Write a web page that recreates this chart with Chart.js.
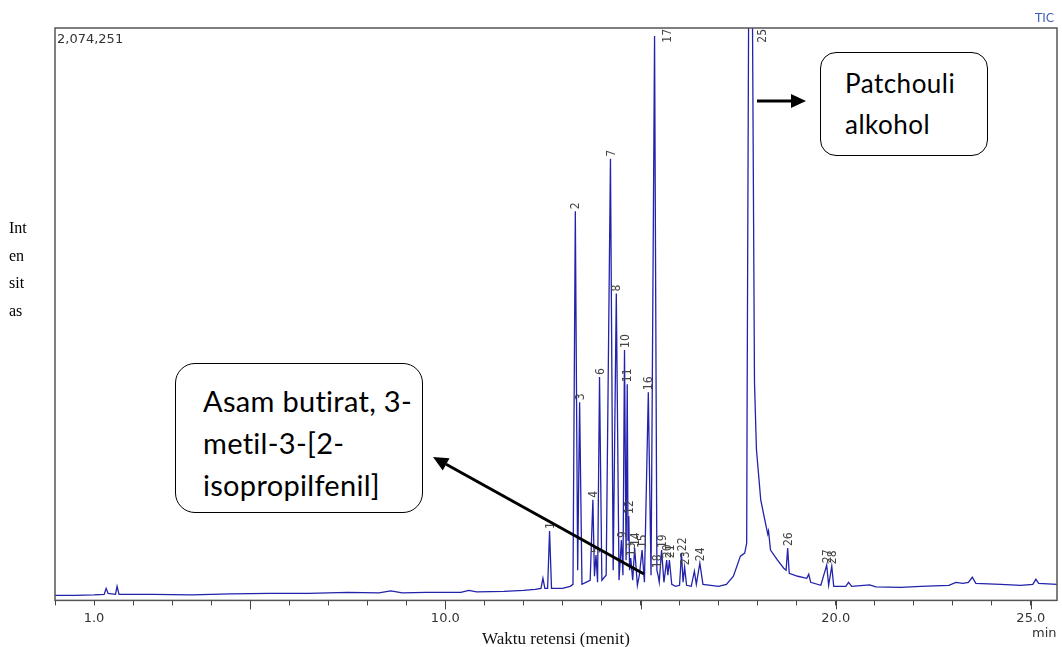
<!DOCTYPE html>
<html>
<head>
<meta charset="utf-8">
<script src="https://cdn.jsdelivr.net/npm/chart.js@4.4.1/dist/chart.umd.min.js"></script>
<style>
  body { margin: 0; background: #fff; }
  #wrap { position: relative; width: 1062px; height: 647px; overflow: hidden; }
  #chart { position: absolute; left: 0; top: 0; }
  .txt { position: absolute; white-space: nowrap; }
  .box { position: absolute; border: 1.6px solid #000; background: #fff; box-sizing: border-box;
         font-family: Lato, "Liberation Sans", sans-serif; color: #000; white-space: nowrap; }
</style>
</head>
<body>
<div id="wrap">
  <canvas id="chart" width="1062" height="647"></canvas>
  <div class="txt" style="left:57px;top:31px;font:13px 'DejaVu Sans',sans-serif;color:#333;">2,074,251</div>
  <div class="txt" style="left:1035px;top:11px;font:12px 'DejaVu Sans',sans-serif;color:#3a5cb8;">TIC</div>
  <div class="txt" style="left:1032px;top:625px;font:13px 'DejaVu Sans',sans-serif;color:#333;">min</div>
  <div class="txt" style="left:9px;top:214px;font:16px 'Liberation Serif',serif;color:#000;line-height:27.5px;">Int<br>en<br>sit<br>as</div>
  <div class="box" style="left:820px;top:52px;width:168px;height:104px;border-radius:16px;padding:10px 0 0 24px;line-height:41px;font-size:26px;letter-spacing:0.5px;">Patchouli<br>alkohol</div>
  <div class="box" style="left:175px;top:363px;width:248px;height:150px;border-radius:20px;padding:16px 0 0 27px;line-height:42px;font-size:29px;letter-spacing:0.3px;">Asam butirat, 3-<br>metil-3-[2-<br>isopropilfenil]</div>
</div>
<script>
// chromatogram trace (retention time in min, intensity in counts)
const timeMin = [
  0.00, 0.50, 1.00, 1.26, 1.31, 1.36, 1.55, 1.59, 1.64, 2.50, 3.50, 4.50, 5.50, 6.50, 7.50,
  8.30, 8.60, 8.90, 9.50, 10.40, 10.60, 10.80, 11.50, 12.00, 12.30, 12.45, 12.50, 12.55, 12.62,
  12.67, 12.72, 13.00, 13.20, 13.27, 13.33, 13.39, 13.44, 13.50, 13.60, 13.71, 13.78, 13.82,
  13.86, 13.90, 13.95, 14.01, 14.12, 14.23, 14.30, 14.38, 14.45, 14.51, 14.55, 14.59, 14.63,
  14.66, 14.68, 14.70, 14.72, 14.75, 14.80, 14.85, 14.92, 14.97, 15.04, 15.10, 15.20, 15.27,
  15.36, 15.42, 15.45, 15.48, 15.54, 15.60, 15.67, 15.70, 15.74, 15.80, 15.90, 16.00, 16.05,
  16.09, 16.13, 16.18, 16.30, 16.38, 16.43, 16.52, 16.60, 16.80, 17.00, 17.20, 17.38, 17.56,
  17.67, 17.72, 17.73, 17.81, 17.92, 17.97, 18.08, 18.20, 18.26, 18.28, 18.33, 18.51, 18.67,
  18.73, 18.77, 18.81, 19.03, 19.26, 19.31, 19.36, 19.62, 19.77, 19.82, 19.90, 19.95, 20.26,
  20.33, 20.41, 20.87, 21.03, 21.67, 22.18, 22.90, 23.08, 23.26, 23.40, 23.50, 23.59, 24.23,
  24.74, 25.05, 25.13, 25.20, 25.67
];
const intensity = [
  18200, 18200, 20000, 21900, 43700, 25500, 21900, 51000, 21900, 21900, 20000, 23700, 25500, 25500, 29200,
  27300, 34600, 27300, 29200, 29200, 36500, 31000, 32800, 36500, 40100, 43700, 80200, 43700, 43700,
  251500, 43700, 43700, 51000, 58300, 1410600, 109400, 718100, 58300, 65600, 72900, 364500, 87500,
  164000, 65600, 809200, 72900, 91100, 1600200, 109400, 1111700, 72900, 218700, 91100, 907600, 145800,
  783700, 218700, 306200, 109400, 153100, 72900, 189500, 54700, 91100, 182300, 65600, 754500, 91100,
  2044800, 109400, 91100, 65600, 182300, 65600, 145800, 91100, 145800, 58300, 51000, 54700, 171300,
  65600, 120300, 54700, 51000, 105700, 58300, 134900, 58300, 54700, 51000, 58300, 87500, 160400,
  171300, 207800, 670700, 3600000, 791000, 546800, 364500, 280700, 240000, 251500, 182300, 145800, 116600,
  109400, 189500, 98400, 87500, 80200, 94800, 65600, 54700, 127600, 54700, 123900, 51000, 51000,
  65600, 51000, 56500, 49200, 47400, 51000, 54700, 65600, 62000, 65600, 83800, 62000, 58300,
  54700, 58300, 76500, 62000, 58300
];

// numbered peaks and the retention time of their apex
const peakNo = [1, 2, 3, 4, 5, 6, 7, 8, 9, 10, 11, 12, 13, 14, 15, 16, 17, 18, 19, 20, 21, 22, 23, 24, 25, 26, 27, 28];
const peakTime = [12.67, 13.33, 13.44, 13.78, 13.86, 13.95, 14.23, 14.38, 14.51, 14.59, 14.66, 14.70, 14.75, 14.85,
  15.04, 15.20, 15.36, 15.42, 15.54, 15.67, 15.74, 16.05, 16.13, 16.52, 17.81, 18.77, 19.77, 19.90];

const xTickValues = [1, 10, 20, 25];
const xTickLabels = ['1.0', '10.0', '20.0', '25.0'];
const xMajorTicks = [5, 10, 15, 20, 25];
const yTop = 2074251;

const framePlugin = {
  id: 'frame',
  afterDraw(chart) {
    const ctx = chart.ctx, a = chart.chartArea, xs = chart.scales.x;
    ctx.save();
    ctx.strokeStyle = '#555';
    ctx.lineWidth = 1.5;
    ctx.strokeRect(a.left, a.top, a.right - a.left, a.bottom - a.top);
    ctx.lineWidth = 1;
    ctx.strokeStyle = '#444';
    xMajorTicks.forEach(v => {
      const px = Math.round(xs.getPixelForValue(v)) + 0.5;
      ctx.beginPath();
      ctx.moveTo(px, a.bottom);
      ctx.lineTo(px, a.bottom + 9);
      ctx.stroke();
    });
    ctx.restore();
  }
};

const peakLabelPlugin = {
  id: 'peakLabels',
  afterDatasetsDraw(chart) {
    const ctx = chart.ctx, a = chart.chartArea;
    const xs = chart.scales.x, ys = chart.scales.y;
    ctx.save();
    ctx.font = '12px "Liberation Sans Narrow", "DejaVu Sans Condensed", sans-serif';
    ctx.fillStyle = '#444';
    ctx.textAlign = 'left';
    ctx.textBaseline = 'middle';
    peakNo.forEach((n, i) => {
      const idx = timeMin.indexOf(peakTime[i]);
      const text = String(n);
      const w = ctx.measureText(text).width;
      let lx = xs.getPixelForValue(peakTime[i]) + 1;
      let ly = ys.getPixelForValue(intensity[idx]) - 2;
      if (ly - w < a.top) { ly = a.top + w + 1; lx += 12; }
      ctx.save();
      ctx.translate(lx, ly);
      ctx.rotate(-Math.PI / 2);
      ctx.fillText(text, 0, 0);
      ctx.restore();
    });
    ctx.restore();
  }
};

function drawArrow(ctx, x1, y1, x2, y2) {
  const ang = Math.atan2(y2 - y1, x2 - x1), head = 15, half = 7;
  const bx = x2 - head * Math.cos(ang), by = y2 - head * Math.sin(ang);
  ctx.beginPath();
  ctx.moveTo(x1, y1);
  ctx.lineTo(bx, by);
  ctx.stroke();
  ctx.beginPath();
  ctx.moveTo(x2, y2);
  ctx.lineTo(bx + half * Math.sin(ang), by - half * Math.cos(ang));
  ctx.lineTo(bx - half * Math.sin(ang), by + half * Math.cos(ang));
  ctx.closePath();
  ctx.fill();
}

const arrowPlugin = {
  id: 'arrows',
  afterDraw(chart) {
    const ctx = chart.ctx;
    ctx.save();
    ctx.strokeStyle = '#000';
    ctx.fillStyle = '#000';
    ctx.lineWidth = 3;
    drawArrow(ctx, 757, 101, 806, 101);
    drawArrow(ctx, 644, 574, 433, 457);
    ctx.restore();
  }
};

new Chart(document.getElementById('chart').getContext('2d'), {
  type: 'line',
  data: {
    datasets: [{
      data: timeMin.map((t, i) => ({ x: t, y: intensity[i] })),
      borderColor: '#2222aa',
      borderWidth: 1.3,
      pointRadius: 0,
      tension: 0,
      fill: false
    }]
  },
  options: {
    responsive: false,
    animation: false,
    layout: { padding: { left: 55, right: 5, top: 28, bottom: -1 } },
    plugins: { legend: { display: false }, tooltip: { enabled: false } },
    scales: {
      x: {
        type: 'linear',
        min: 0,
        max: 25.67,
        afterBuildTicks: scale => {
          const t = [];
          for (let v = 0; v <= 25; v++) t.push({ value: v });
          scale.ticks = t;
        },
        ticks: {
          autoSkip: false,
          maxRotation: 0,
          padding: 5,
          color: '#333',
          font: { family: 'DejaVu Sans', size: 13 },
          callback: v => {
            const k = xTickValues.indexOf(v);
            return k >= 0 ? xTickLabels[k] : '';
          }
        },
        grid: { display: true, drawOnChartArea: false, drawTicks: true, tickLength: 5, color: '#444' },
        border: { display: false },
        title: {
          display: true,
          text: 'Waktu retensi (menit)',
          color: '#111',
          font: { family: 'Liberation Serif', size: 17, lineHeight: 1 },
          padding: { top: 0, bottom: 0 }
        }
      },
      y: { display: false, min: 0, max: yTop }
    }
  },
  plugins: [framePlugin, peakLabelPlugin, arrowPlugin]
});
</script>
</body>
</html>
